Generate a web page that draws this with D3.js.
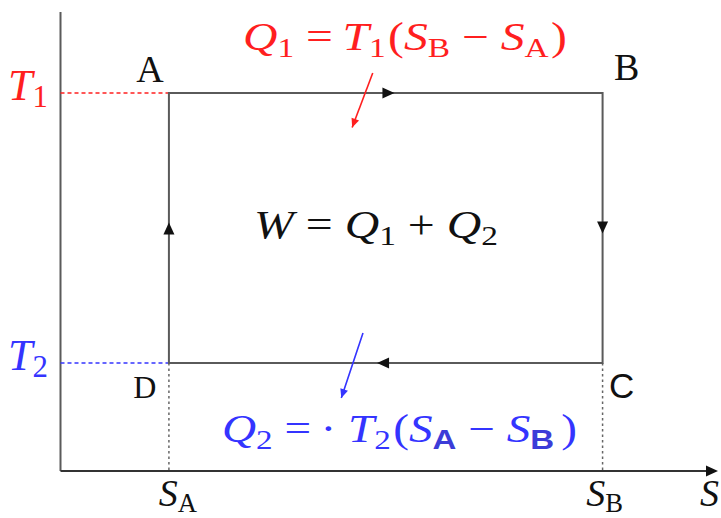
<!DOCTYPE html>
<html>
<head>
<meta charset="utf-8">
<script src="https://cdn.jsdelivr.net/npm/d3@7"></script>
<style>
  body { margin: 0; background: #fff; }
  svg { display: block; }
</style>
</head>
<body>
<svg id="chart" width="721" height="518"></svg>
<script>
// cycle states (entropy S, temperature T)
const stateNames = ["A", "B", "C", "D"];
const stateS = [1, 5, 5, 1];
const stateT = [3.5, 3.5, 1, 1];

// axis marks
const sTickNames = ["A", "B"];
const sTickValues = [1, 5];
const tTickNames = ["1", "2"];
const tTickValues = [3.5, 1];

// heat annotation arrows, in (S, T) units
const heatArrowFrom = [[2.88, 3.685], [2.79, 1.278]];
const heatArrowTo = [[2.69, 3.18], [2.59, 0.676]];

const red = "#ff1f1f", blue = "#3434ff", grey = "#5a5a5a";
const SERIF = "'Liberation Serif'";
const SANS = "'Liberation Sans'";

var svg = d3.select("#chart"),
	width = +svg.attr("width"),
	height = +svg.attr("height");

var x = d3.scaleLinear().domain([0, 6]).range([60.5, 711]);
var y = d3.scaleLinear().domain([0, 4.25]).range([471, 12]);

// writes a little formula: [text, kind, dx] with kind i = italic, r = roman, s = subscript, ss = sans subscript
function mathText(g, parts, size, color) {
	var t = g.append("text").attr("font-size", size).attr("fill", color).style("font-family", SERIF);
	var shift = size * 0.17, down = false;
	parts.forEach(function(p) {
		var sp = t.append("tspan").text(p[0]).style("font-family", p[1] == "ss" ? SANS : SERIF);
		var isSub = p[1] == "s" || p[1] == "ss";
		if (isSub && !down) { sp.attr("dy", shift); down = true; }
		else if (!isSub && down) { sp.attr("dy", -shift); down = false; }
		if (isSub) sp.attr("font-size", size * 0.7);
		if (p[1] == "i") sp.attr("font-style", "italic");
		if (p[1] == "ss") sp.attr("font-weight", "bold").attr("fill", "#3c3cd8");
		if (p[2]) sp.attr("dx", p[2]);
	});
	return t;
}

// stretch a formula sideways so it spans x0..x1 (TeX glyphs run wider than Times)
function fitWidth(t, x0, x1) {
	var b = t.node().getBBox();
	var k = (x1 - x0) / b.width;
	t.attr("transform", "translate(" + x0 + ",0) scale(" + k + ",1) translate(" + (-b.x) + ",0)");
}

// axes
svg.append("line")
	.attr("x1", x(0)).attr("x2", x(0))
	.attr("y1", y(0)).attr("y2", y(4.25))
	.attr("stroke", grey).attr("stroke-width", 2);
svg.append("line")
	.attr("x1", x(0)).attr("x2", width - 6)
	.attr("y1", y(0)).attr("y2", y(0))
	.attr("stroke", "#333").attr("stroke-width", 2);
svg.append("path")
	.attr("d", "M0,0L-12,-5.5L-12,5.5Z")
	.attr("transform", "translate(" + (width - 3) + "," + y(0) + ")")
	.attr("fill", "#111");

// guide lines to the axes
svg.append("line")
	.attr("x1", x(0)).attr("x2", x(sTickValues[0]))
	.attr("y1", y(tTickValues[0])).attr("y2", y(tTickValues[0]))
	.attr("stroke", red).attr("stroke-width", 1.5).attr("stroke-dasharray", "4,3");
svg.append("line")
	.attr("x1", x(0)).attr("x2", x(sTickValues[0]))
	.attr("y1", y(tTickValues[1])).attr("y2", y(tTickValues[1]))
	.attr("stroke", blue).attr("stroke-width", 1.5).attr("stroke-dasharray", "4,3");
svg.selectAll(".sguide")
	.data(sTickValues)
	.enter().append("line")
	.attr("x1", function(d) { return x(d); }).attr("x2", function(d) { return x(d); })
	.attr("y1", y(tTickValues[1])).attr("y2", y(0))
	.attr("stroke", "#666").attr("stroke-width", 1.5).attr("stroke-dasharray", "2.5,3");

// the cycle
var pts = stateNames.map(function(n, i) { return [x(stateS[i]), y(stateT[i])]; });
svg.append("path")
	.attr("d", d3.line()(pts) + "Z")
	.attr("fill", "none").attr("stroke", grey).attr("stroke-width", 2);

// direction arrows on each leg
var legs = pts.map(function(p, i) { return [p, pts[(i + 1) % 4]]; });
svg.selectAll(".leg-arrow")
	.data(legs)
	.enter().append("path")
	.attr("d", "M0,0L-12,-5.5L-12,5.5Z")
	.attr("fill", "#111")
	.attr("transform", function(d) {
		var f = 0.52;
		var px = d[0][0] + (d[1][0] - d[0][0]) * f,
			py = d[0][1] + (d[1][1] - d[0][1]) * f;
		var a = Math.atan2(d[1][1] - d[0][1], d[1][0] - d[0][0]) * 180 / Math.PI;
		return "translate(" + px + "," + py + ") rotate(" + a + ")";
	});

// heat arrows
var heatColors = [red, blue];
heatArrowFrom.forEach(function(f, i) {
	var x1 = x(f[0]), y1 = y(f[1]), x2 = x(heatArrowTo[i][0]), y2 = y(heatArrowTo[i][1]);
	var a = Math.atan2(y2 - y1, x2 - x1) * 180 / Math.PI;
	svg.append("line")
		.attr("x1", x1).attr("y1", y1).attr("x2", x2).attr("y2", y2)
		.attr("stroke", heatColors[i]).attr("stroke-width", 1.6);
	svg.append("path")
		.attr("d", "M0,0L-9,-4L-9,4Z")
		.attr("fill", heatColors[i])
		.attr("transform", "translate(" + x2 + "," + y2 + ") rotate(" + a + ")");
});

// state labels
var labelOffsets = [[-19, -11], [24, -13], [19, 35], [-24, 35]];
var labelSizes = [38, 38, 35, 32];
svg.selectAll(".state")
	.data(stateNames)
	.enter().append("text")
	.attr("x", function(d, i) { return pts[i][0] + labelOffsets[i][0]; })
	.attr("y", function(d, i) { return pts[i][1] + labelOffsets[i][1]; })
	.attr("text-anchor", "middle")
	.attr("font-size", function(d, i) { return labelSizes[i]; })
	.style("font-family", function(d) { return d == "C" ? SANS : SERIF; })
	.attr("fill", "#111")
	.text(function(d) { return d; });

// T labels on the vertical axis
var tColors = [red, blue];
tTickValues.forEach(function(v, i) {
	mathText(svg, [["T", "i"], [tTickNames[i], "s"]], 44, tColors[i])
		.attr("x", 48).attr("y", y(v) + 7)
		.attr("text-anchor", "end");
});

// S labels on the horizontal axis
var sLabelShift = [9, 2];
sTickValues.forEach(function(v, i) {
	mathText(svg, [["S", "i"], [sTickNames[i], "s"]], 38, "#111")
		.attr("x", x(v) + sLabelShift[i]).attr("y", 506)
		.attr("text-anchor", "middle");
});
mathText(svg, [["S", "i"]], 38, "#111").attr("x", 700).attr("y", 506);

// formulas
var q1 = mathText(svg, [["Q", "i"], ["1", "s"], ["=", "r", 10], ["T", "i", 8], ["1", "s"], ["(", "r", 2], ["S", "i"], ["B", "s"], ["\u2212", "r", 10], ["S", "i", 10], ["A", "s"], [")", "r", 2]], 40, red)
	.attr("x", 0).attr("y", 50);
fitWidth(q1, 243, 567);

var w = mathText(svg, [["W", "i"], ["=", "r", 10], ["Q", "i", 10], ["1", "s"], ["+", "r", 10], ["Q", "i", 10], ["2", "s"]], 40, "#111")
	.attr("x", 0).attr("y", 238);
fitWidth(w, 254, 498);

var q2 = mathText(svg, [["Q", "i"], ["2", "s"], ["=", "r", 10], ["\u00b7", "r", 8], ["T", "i", 10], ["2", "s"], ["(", "r", 2], ["S", "i"], ["A", "ss"], ["\u2212", "r", 10], ["S", "i", 10], ["B", "ss"], [")", "r", 6]], 40, blue)
	.attr("x", 0).attr("y", 442);
fitWidth(q2, 222, 577);
</script>
</body>
</html>
